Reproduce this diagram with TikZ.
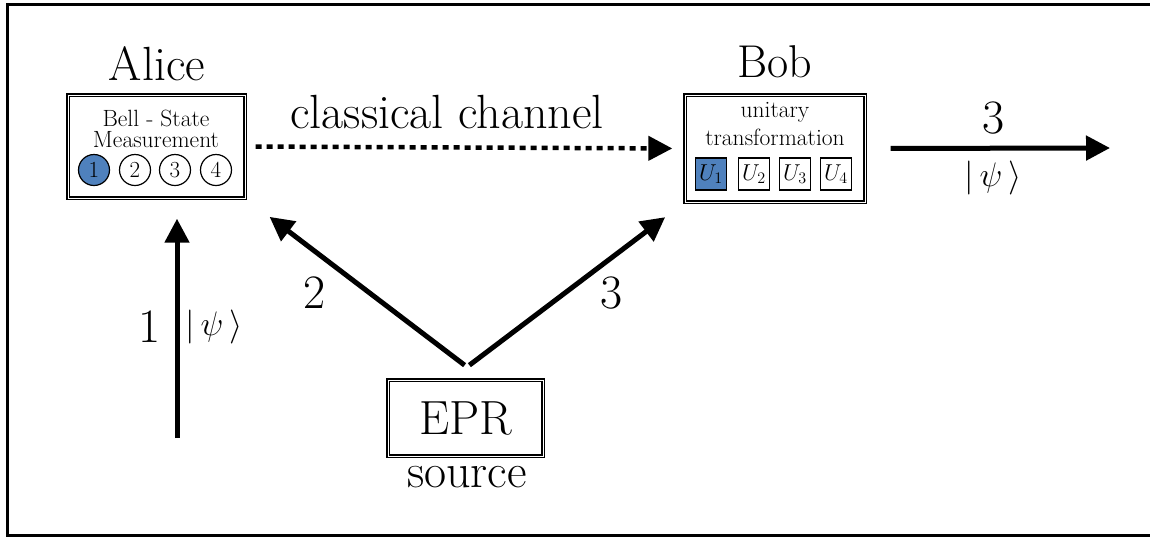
\RequirePackage{fix-cm}
\documentclass[tikz,border=0pt]{standalone}
\usepackage{tikz}
\usetikzlibrary{arrows.meta}
\definecolor{stateblue}{RGB}{79,129,189}

\begin{document}
\begin{tikzpicture}[x=1pt,y=-1pt,
	tip/.style={-{Triangle[length=24pt,width=24pt]}},
	beam/.style={line width=5pt,tip},
	frame/.style={draw,double,double distance=1pt,line width=1.4pt,inner sep=0pt},
	big/.style={font=\fontsize{48}{56}\selectfont},
	small/.style={font=\fontsize{23.5}{28}\selectfont},
	ket/.style={font=\fontsize{34}{40}\selectfont},
	state/.style={circle,draw,line width=1.2pt,minimum size=31pt,inner sep=0pt,font=\fontsize{23}{26}\selectfont},
	op/.style={rectangle,draw,line width=1.2pt,minimum width=31pt,minimum height=32pt,inner sep=0pt,font=\fontsize{23}{26}\selectfont}]
	\useasboundingbox (0,0) rectangle (1150,536);
	\draw[line width=3pt] (1152,4) -- (7,4) -- (7,535) -- (1152,535); % frame

	\node[big,anchor=base] (alice) at (157,80) {Alice};
	\node[frame,minimum width=177pt,minimum height=103pt] (alicebox) at (156.5,146.5) {};
	\node[small] (bell) at (156,118) {Bell - State};
	\node[small] (meas) at (156,140) {Measurement};
	\node[state,fill=stateblue] (s1) at (94,170) {1};
	\node[state] (s2) at (135,170) {2};
	\node[state] (s3) at (175,170) {3};
	\node[state] (s4) at (216,170) {4};

	\node[big,anchor=base,font=\fontsize{46}{54}\selectfont] (bob) at (775,77) {Bob};
	\node[frame,minimum width=180pt,minimum height=107pt] (bobbox) at (775,148.5) {};
	\node[small] (unitary) at (775,112) {unitary};
	\node[small] (transf) at (775,137) {transformation};
	\node[op,fill=stateblue] (u1) at (711,174) {$U_1$};
	\node[op] (u2) at (754,174) {$U_2$};
	\node[op] (u3) at (795,174) {$U_3$};
	\node[op] (u4) at (836,174) {$U_4$};

	\node[frame,minimum width=155pt,minimum height=76pt,big] (epr) at (465.5,418) {EPR};
	\node[big,anchor=base] (source) at (467,487) {source};

	\coordinate (qin) at (177,438);
	\coordinate (split) at (467,367);
	\coordinate (qout) at (1110,148);

	\draw[line width=4.5pt,dash pattern=on 6pt off 5pt,tip,shorten <=10pt,shorten >=12pt] (alicebox.east) -- (bobbox.west); % classical channel
	\draw[beam,shorten >=20pt] (qin) -- (qin |- alicebox.south); % particle 1
	\draw[beam,shorten <=3pt,shorten >=30pt] (split) -- (alicebox.south east); % particle 2
	\draw[beam,shorten <=3pt,shorten >=24pt] (split) -- (bobbox.south west); % particle 3
	\draw[beam,shorten <=25pt] (bobbox.east) -- (qout); % teleported state

	\node[big,anchor=base] (channel) at (447,128) {classical channel};
	\node[big,anchor=base] (n1) at (150,342) {1};
	\node[ket] (k1) at (214,327) {$|\,\psi\,\rangle$};
	\node[big,anchor=base] (n2) at (315,308) {2};
	\node[big,anchor=base] (n3) at (612,308) {3};
	\node[big,anchor=base] (n3out) at (994,133) {3};
	\node[ket] (k3) at (993,178) {$|\,\psi\,\rangle$};
\end{tikzpicture}
\end{document}
